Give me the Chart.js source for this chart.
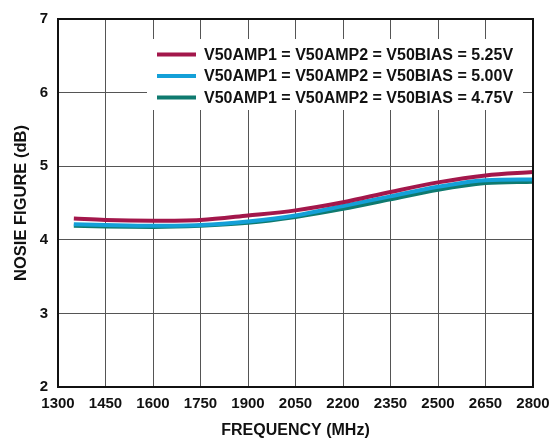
<!DOCTYPE html>
<html>
<head>
<meta charset="utf-8">
<script src="https://cdn.jsdelivr.net/npm/chart.js@4.4.0/dist/chart.umd.min.js"></script>
<style>
html,body{margin:0;padding:0;background:#fff;}
#wrap{width:559px;height:446px;position:relative;}
</style>
</head>
<body>
<div id="wrap"><canvas id="c" width="559" height="446"></canvas></div>
<script>
const freqMHz = [1350, 1450, 1600, 1750, 1900, 2050, 2200, 2350, 2500, 2650, 2800];
const nf525 = [4.29, 4.27, 4.26, 4.27, 4.33, 4.40, 4.51, 4.65, 4.78, 4.875, 4.92];
const nf500 = [4.21, 4.20, 4.19, 4.20, 4.25, 4.33, 4.46, 4.59, 4.72, 4.81, 4.82];
const nf475 = [4.19, 4.18, 4.175, 4.19, 4.23, 4.31, 4.42, 4.55, 4.68, 4.77, 4.79];
const seriesLabels = [
  'V50AMP1 = V50AMP2 = V50BIAS = 5.25V',
  'V50AMP1 = V50AMP2 = V50BIAS = 5.00V',
  'V50AMP1 = V50AMP2 = V50BIAS = 4.75V'
];
const xTicks = [1300, 1450, 1600, 1750, 1900, 2050, 2200, 2350, 2500, 2650, 2800];
const yTicks = [2, 3, 4, 5, 6, 7];

const colors = ['#A3174B', '#14A0D8', '#0F7A6F'];
const FONT = '"Liberation Sans", Arial, sans-serif';

function pts(vals){ return freqMHz.map((f,i)=>({x:f,y:vals[i]})); }

const legendPlugin = {
  id: 'insideLegend',
  afterDatasetsDraw(chart){
    const ctx = chart.ctx, ca = chart.chartArea;
    ctx.save();
    const bx = ca.left + 89, by = ca.top + 20, bw = ca.right - 10 - bx, bh = 71;
    ctx.fillStyle = '#fff';
    ctx.fillRect(bx, by, bw, bh);
    ctx.font = 'bold 16px ' + FONT;
    ctx.textBaseline = 'middle';
    ctx.textAlign = 'left';
    chart.data.datasets.forEach((ds, i) => {
      const y = by + 15.5 + i * 21.5;
      ctx.strokeStyle = ds.borderColor;
      ctx.lineWidth = 4;
      ctx.beginPath();
      ctx.moveTo(bx + 10, y);
      ctx.lineTo(bx + 49, y);
      ctx.stroke();
      ctx.fillStyle = '#111';
      ctx.fillText(ds.label, bx + 57, y + 1);
    });
    ctx.restore();
  },
  afterDraw(chart){
    const ctx = chart.ctx, ca = chart.chartArea;
    ctx.save();
    ctx.strokeStyle = '#111';
    ctx.lineWidth = 2;
    ctx.strokeRect(ca.left, ca.top, ca.right - ca.left, ca.bottom - ca.top);
    ctx.restore();
  }
};

new Chart(document.getElementById('c'), {
  type: 'line',
  data: {
    datasets: [
      {label: seriesLabels[0], data: pts(nf525), borderColor: colors[0], borderWidth: 4, pointRadius: 0, tension: 0.4, cubicInterpolationMode: 'monotone', fill: false},
      {label: seriesLabels[1], data: pts(nf500), borderColor: colors[1], borderWidth: 4, pointRadius: 0, tension: 0.4, cubicInterpolationMode: 'monotone', fill: false},
      {label: seriesLabels[2], data: pts(nf475), borderColor: colors[2], borderWidth: 4, pointRadius: 0, tension: 0.4, cubicInterpolationMode: 'monotone', fill: false}
    ]
  },
  options: {
    responsive: false,
    animation: false,
    layout: {padding: {top: 8, right: 26, left: 0, bottom: 0}},
    plugins: {legend: {display: false}, tooltip: {enabled: false}},
    scales: {
      x: {
        type: 'linear', min: 1300, max: 2800,
        afterBuildTicks(s){ s.ticks = xTicks.map(v=>({value:v})); },
        afterFit(s){ s.height = 59; },
        grid: {color: '#555', lineWidth: 1, drawTicks: false},
        border: {display: false},
        ticks: {color: '#111', font: {family: FONT, size: 15, weight: 'bold'}, padding: 8, maxRotation: 0, autoSkip: false, callback: v => String(v)},
        title: {display: true, text: 'FREQUENCY (MHz)', color: '#111', font: {family: FONT, size: 16, weight: 'bold'}, padding: {top: 0, bottom: 6}}
      },
      y: {
        type: 'linear', min: 2, max: 7,
        afterBuildTicks(s){ s.ticks = yTicks.map(v=>({value:v})); },
        afterFit(s){ s.width = 58; },
        grid: {color: '#555', lineWidth: 1, drawTicks: false},
        border: {display: false},
        ticks: {color: '#111', font: {family: FONT, size: 15, weight: 'bold'}, padding: 10, callback: v => String(v)},
        title: {display: true, text: 'NOSIE FIGURE (dB)', color: '#111', font: {family: FONT, size: 16.5, weight: 'bold'}, padding: {top: 12, bottom: 0}}
      }
    }
  },
  plugins: [legendPlugin]
});
</script>
</body>
</html>
